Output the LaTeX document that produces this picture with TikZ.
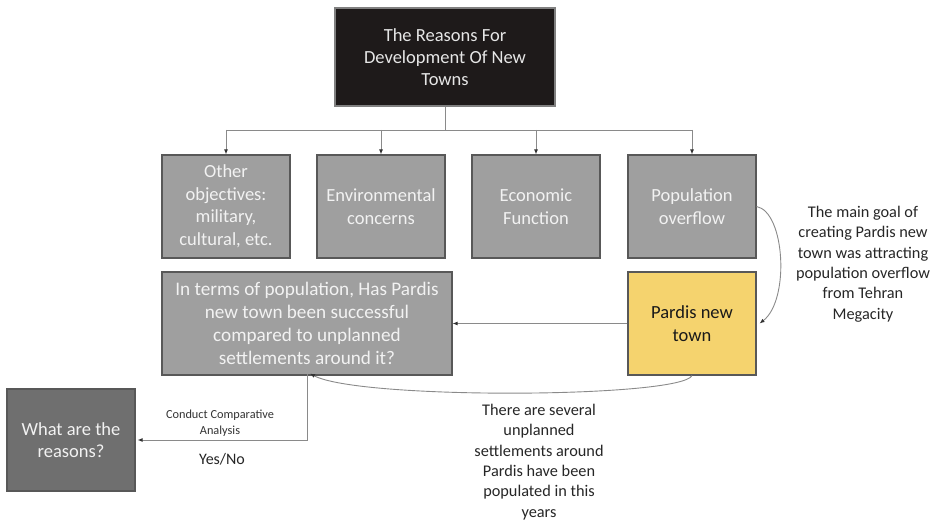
\documentclass[tikz,border=0pt]{standalone}
\usepackage{fontspec}
\setmainfont{Carlito}
\usetikzlibrary{arrows.meta}
\definecolor{boxgray}{HTML}{9F9F9F}
\definecolor{boxedge}{HTML}{585858}
\definecolor{darkbox}{HTML}{6F6F6F}
\definecolor{topbox}{HTML}{1E1A1A}
\definecolor{pardis}{HTML}{F5D36E}
\definecolor{linegray}{HTML}{8A8A8A}
\definecolor{boxtext}{HTML}{F2F2F2}
\begin{document}
\begin{tikzpicture}[x=1pt,y=-1pt,
  box/.style={draw=boxedge, line width=1.2pt, inner sep=0pt, align=center, text=boxtext,
    font=\fontsize{18.5}{22.5}\selectfont},
  graybox/.style={box, fill=boxgray},
  conn/.style={draw=linegray, line width=0.9pt, -{Latex[length=5pt,width=4pt,color=black!80]}},
  note/.style={align=center, text=black!85, font=\fontsize{16.3}{20.3}\selectfont}
]
\useasboundingbox (0,0) rectangle (935,521);

\node[box, fill=topbox, draw=gray, minimum width=220pt, minimum height=98pt, text=boxtext!95!black,
  font=\fontsize{18.5}{22}\selectfont] (top) at (445,57) {The Reasons For\\Development Of New\\Towns};

\node[graybox, minimum width=128pt, minimum height=103pt] (b1) at (226,206.5) {Other\\objectives:\\military,\\cultural, etc.};
\node[graybox, minimum width=128pt, minimum height=103pt] (b2) at (381,206.5) {Environmental\\concerns};
\node[graybox, minimum width=128pt, minimum height=103pt] (b3) at (536,206.5) {Economic\\Function};
\node[graybox, minimum width=128pt, minimum height=103pt] (b4) at (692,206.5) {Population\\overflow};

\node[graybox, minimum width=290pt, minimum height=103pt, font=\fontsize{19.2}{23}\selectfont] (q) at (307,323.5)
  {In terms of population, Has Pardis\\new town been successful\\compared to unplanned\\settlements around it?};
\node[box, fill=pardis, text=black!90, minimum width=128pt, minimum height=103pt] (p) at (692,323.5) {Pardis new\\town};

\node[box, fill=darkbox, minimum width=128pt, minimum height=102pt] (w) at (71,440) {What are the\\reasons?};

% tree connectors
\coordinate (hub) at (445,130);
\draw[linegray, line width=0.9pt] (top.south) -- (hub);
\draw[linegray, line width=0.9pt] (b1.north |- hub) -- (b4.north |- hub);
\foreach \b in {b1,b2,b3,b4} \draw[conn] (\b.north |- hub) -- (\b.north);

% pardis to question
\draw[conn] (p.west) -- (q.east);

% population overflow to pardis
\draw[conn] (b4.east) .. controls (785,212) and (790,300) .. ([xshift=3pt]p.east);

% pardis to question (curve)
\draw[conn] (p.south) .. controls (680,398) and (360,400) .. ([xshift=3pt,yshift=2pt]q.south);

% question to what
\coordinate (corner) at (q.south |- w.east);
\draw[conn] ([yshift=2pt]q.south) -- (corner) -- ([xshift=2pt]w.east);

% labels
\node[align=center, text=black!80, font=\fontsize{12.3}{16}\selectfont] (cca) at (220,423) {Conduct Comparative\\Analysis};
\node[text=black!85, font=\fontsize{16}{18}\selectfont] (yn) at (222,459) {Yes/No};

\node[note] (n1) at (863,264) {The main goal of\\creating Pardis new\\town was attracting\\population overflow\\from Tehran\\Megacity};
\node[note] (n2) at (539,462) {There are several\\unplanned\\settlements around\\Pardis have been\\populated in this\\years};
\end{tikzpicture}
\end{document}
